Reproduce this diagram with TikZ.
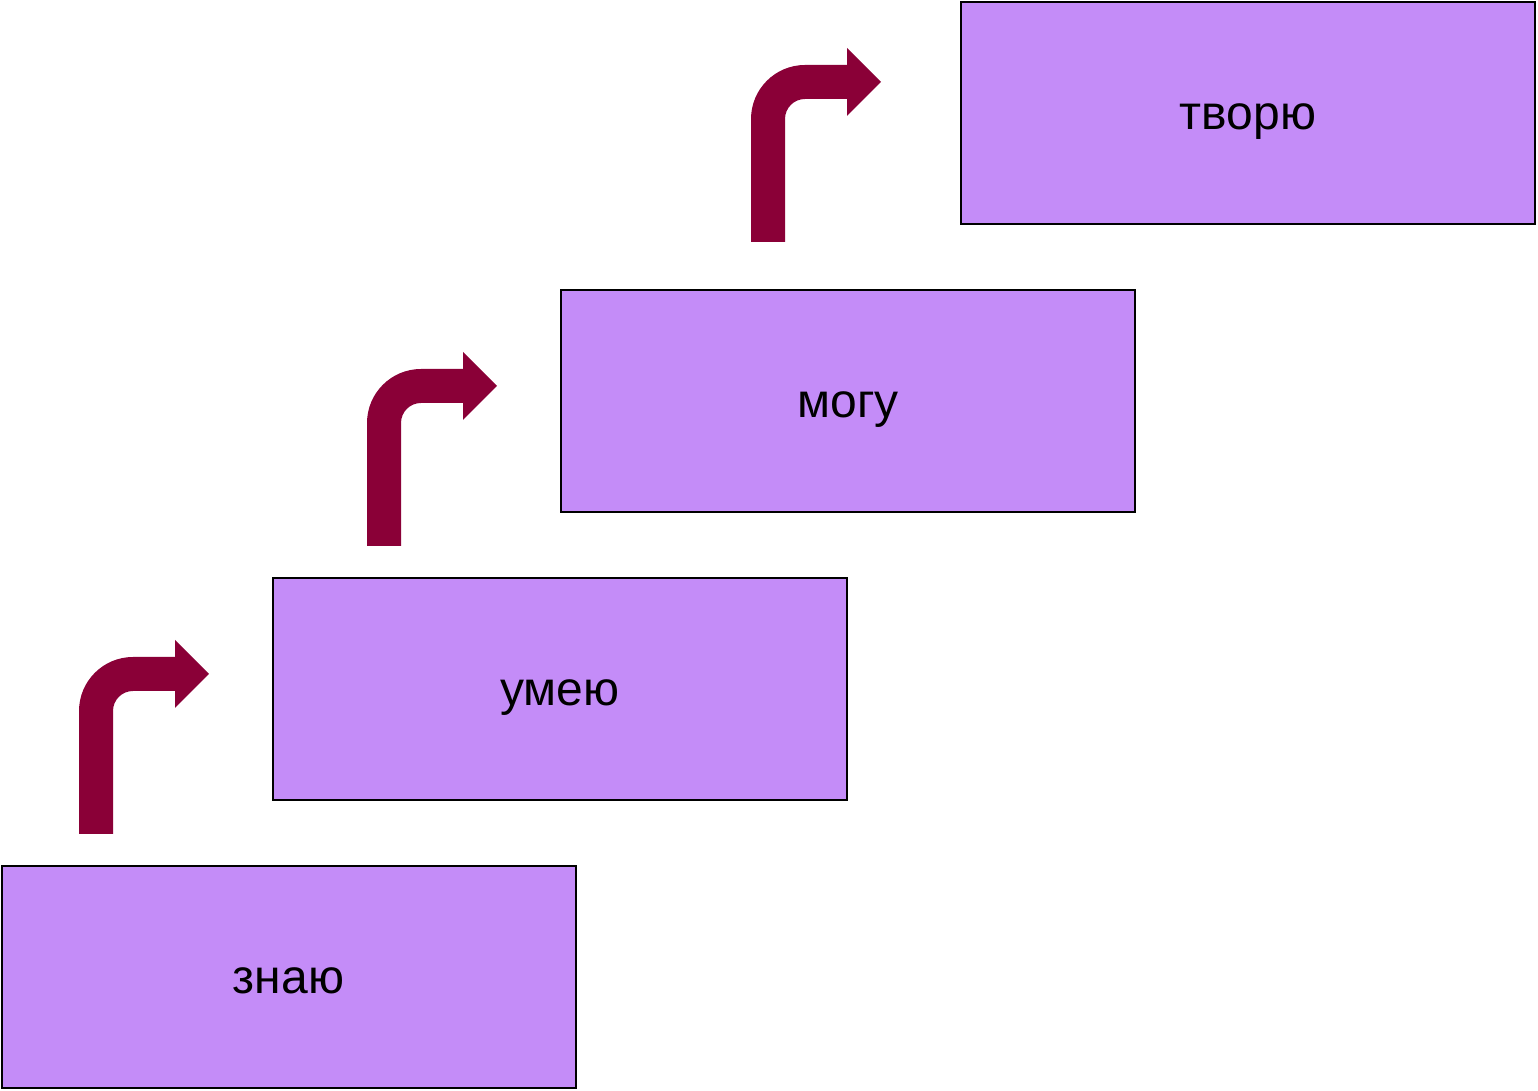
\documentclass[tikz,border=0pt]{standalone}
\usepackage{fontspec}
\setmainfont{Liberation Sans}
\definecolor{boxfill}{HTML}{C48CF8}
\definecolor{arrowcol}{HTML}{8A0037}
\begin{document}
\begin{tikzpicture}[x=1pt,y=1pt,
  stepbox/.style={draw=black, line width=2pt, fill=boxfill, minimum width=574pt, minimum height=222pt, inner sep=0pt, text height=33pt, text depth=0pt, font=\fontsize{48}{56}\selectfont},
  bentarrow/.pic={
    \fill[arrowcol] (0,0) -- (0,123) arc[start angle=180, end angle=90, radius=54]
      -- (96,177) -- (96,194) -- (130,160) -- (96,126) -- (96,143) -- (54,143)
      arc[start angle=90, end angle=180, radius=20] -- (34,0) -- cycle;
  }]
\useasboundingbox (0,0) rectangle (1538,1091);
\node[stepbox] (znayu) at (288.5,113.5) {знаю};
\node[stepbox] (umeyu) at (560,401.5) {умею};
\node[stepbox] (mogu) at (848,689.5) {могу};
\node[stepbox] (tvoryu) at (1248,977.5) {творю};
\pic (a1) at (79,257) {bentarrow};
\pic (a2) at (367,545) {bentarrow};
\pic (a3) at (751,849) {bentarrow};
\end{tikzpicture}
\end{document}
